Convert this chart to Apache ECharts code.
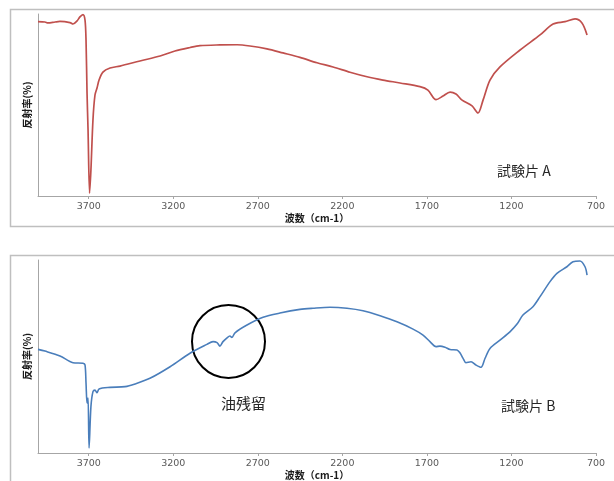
<!DOCTYPE html>
<html>
<head>
<meta charset="utf-8">
<script src="https://cdn.jsdelivr.net/npm/echarts@6/dist/echarts.min.js"></script>
<style>
  html, body { margin: 0; padding: 0; background: #ffffff; }
  #chart { width: 614px; height: 481px; }
</style>
</head>
<body>
<div id="chart"></div>
<script>
// Wavenumber axis ticks (cm-1)
const tickValues = [3700, 3200, 2700, 2200, 1700, 1200, 700];

// Specimen A spectrum: wavenumber (cm-1) and reflectance (arbitrary %)
const wavenumbersA = [4000, 3959, 3941, 3899, 3870, 3811, 3793, 3769, 3752, 3734, 3722, 3716, 3710, 3704, 3695, 3687, 3675, 3663, 3651, 3639, 3616, 3574, 3515, 3397, 3278, 3190, 3101, 3042, 2924, 2823, 2746, 2646, 2551, 2451, 2350, 2255, 2155, 2054, 1960, 1859, 1741, 1694, 1646, 1605, 1563, 1528, 1492, 1433, 1398, 1368, 1327, 1268, 1149, 1031, 954, 883, 824, 783, 753];
const reflectanceA = [95.8, 95.6, 95.1, 95.6, 95.9, 95.3, 94.5, 96.2, 98.4, 99.7, 96.7, 85.7, 56.6, 36.3, 1.6, 14.3, 41.8, 55.5, 59.3, 63.7, 68.1, 70.3, 71.4, 74.2, 76.9, 79.7, 81.6, 82.6, 83.0, 83.1, 82.4, 80.8, 78.6, 76.2, 73.2, 70.9, 68.0, 65.5, 63.7, 62.1, 60.1, 58.2, 52.9, 54.9, 57.1, 56.0, 52.7, 49.5, 45.6, 52.7, 63.7, 70.9, 80.2, 88.5, 94.5, 95.8, 97.3, 95.1, 88.5];

// Specimen B spectrum
const wavenumbersB = [4000, 3959, 3870, 3793, 3734, 3722, 3716, 3710, 3704, 3698, 3687, 3675, 3663, 3651, 3639, 3574, 3485, 3426, 3338, 3219, 3101, 3001, 2965, 2941, 2924, 2906, 2882, 2865, 2853, 2835, 2764, 2669, 2569, 2451, 2374, 2273, 2173, 2078, 1977, 1877, 1782, 1723, 1682, 1646, 1623, 1593, 1563, 1522, 1504, 1487, 1469, 1439, 1410, 1380, 1356, 1327, 1268, 1209, 1167, 1132, 1073, 1031, 972, 931, 872, 836, 795, 765, 753];
const reflectanceB = [53.7, 52.8, 50.3, 46.8, 46.5, 45.6, 36.3, 25.9, 28.5, 2.6, 24.0, 31.8, 32.6, 31.2, 33.2, 34.0, 34.4, 35.8, 38.7, 44.7, 51.7, 56.3, 57.7, 57.2, 55.4, 57.7, 59.7, 60.6, 59.9, 62.3, 66.3, 70.3, 72.5, 74.4, 75.0, 75.5, 75.0, 73.7, 71.1, 68.0, 64.2, 61.1, 57.7, 55.1, 55.4, 54.8, 53.6, 53.4, 51.8, 49.2, 46.8, 47.3, 45.6, 44.4, 49.1, 54.2, 58.5, 62.8, 66.8, 71.5, 75.8, 81.0, 88.8, 93.1, 96.5, 99.1, 99.5, 96.5, 92.2];

const pairs = (xs, ys) => xs.map((x, i) => [x, ys[i]]);

const axisGray = '#a6a6a6';
const labelColor = '#595959';

function xAxisFor(gridIndex) {
  return {
    gridIndex: gridIndex,
    type: 'value',
    min: 700,
    max: 4000,
    inverse: true,
    name: '波数（cm-1）',
    nameLocation: 'middle',
    nameGap: 17,
    nameTextStyle: {
      fontFamily: '"Noto Sans CJK JP", "DejaVu Sans", sans-serif',
      fontSize: 10, fontWeight: 'bold', color: '#1a1a1a'
    },
    axisLine: { show: true, lineStyle: { color: axisGray, width: 1 } },
    axisTick: { show: true, customValues: tickValues, length: 3, lineStyle: { color: axisGray } },
    axisLabel: {
      customValues: tickValues,
      formatter: (v) => String(v),
      fontFamily: '"DejaVu Sans", sans-serif',
      fontSize: 9.5, color: labelColor, margin: 6
    },
    splitLine: { show: false }
  };
}

function yAxisFor(gridIndex) {
  return {
    gridIndex: gridIndex,
    type: 'value',
    min: 0,
    max: 100,
    name: '反射率(%)',
    nameLocation: 'middle',
    nameGap: 6,
    nameRotate: 90,
    nameTextStyle: {
      fontFamily: '"Noto Sans CJK JP", sans-serif',
      fontSize: 10, fontWeight: 'bold', color: '#1a1a1a'
    },
    axisLine: { show: true, lineStyle: { color: axisGray, width: 1 } },
    axisTick: { show: false },
    axisLabel: { show: false },
    splitLine: { show: false }
  };
}

const textFont = '"Noto Sans CJK JP", sans-serif';

const chart = echarts.init(document.getElementById('chart'), null, { renderer: 'canvas' });
chart.setOption({
  animation: false,
  backgroundColor: '#ffffff',
  grid: [
    { left: 38, top: 14, width: 558, height: 182 },
    { left: 38, top: 260, width: 558, height: 193 }
  ],
  xAxis: [xAxisFor(0), xAxisFor(1)],
  yAxis: [yAxisFor(0), yAxisFor(1)],
  series: [
    {
      type: 'line', xAxisIndex: 0, yAxisIndex: 0,
      data: pairs(wavenumbersA, reflectanceA),
      showSymbol: false, smooth: 0.3,
      lineStyle: { color: '#c0504d', width: 1.7 }
    },
    {
      type: 'line', xAxisIndex: 1, yAxisIndex: 1,
      data: pairs(wavenumbersB, reflectanceB),
      showSymbol: false, smooth: 0.3,
      lineStyle: { color: '#4a7ebb', width: 1.6 }
    }
  ],
  graphic: [
    // panel frames
    { type: 'rect', z: -1, shape: { x: 10.5, y: 9.5, width: 620, height: 217 },
      style: { fill: null, stroke: '#bfbfbf', lineWidth: 1.5 } },
    { type: 'rect', z: -1, shape: { x: 10.5, y: 255.5, width: 620, height: 240 },
      style: { fill: null, stroke: '#bfbfbf', lineWidth: 1.5 } },
    // specimen labels
    { type: 'text', left: 497, top: 164,
      style: { text: '試験片 A', font: '14px ' + textFont, fill: '#262626' } },
    { type: 'text', left: 501, top: 399,
      style: { text: '試験片 B', font: '14px ' + textFont, fill: '#262626' } },
    // oil residue callout
    { type: 'circle', shape: { cx: 228.5, cy: 341.5, r: 36.5 },
      style: { fill: null, stroke: '#000000', lineWidth: 2 } },
    { type: 'text', left: 221, top: 396,
      style: { text: '油残留', font: '15px ' + textFont, fill: '#262626' } }
  ]
});
</script>
</body>
</html>
